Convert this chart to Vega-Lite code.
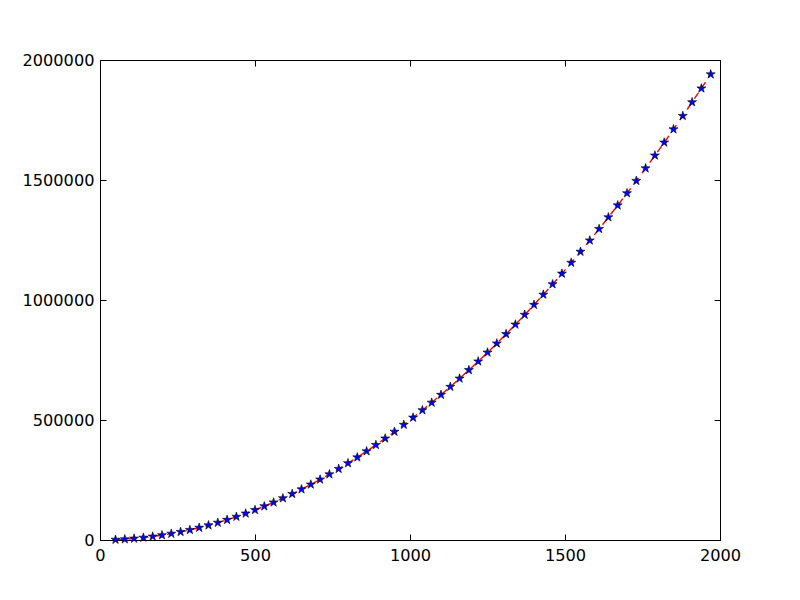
{
  "$schema": "https://vega.github.io/schema/vega-lite/v6.json",
  "autosize": {"type": "none"},
  "padding": {"left": 100, "top": 60, "right": 80, "bottom": 60},
  "width": 620,
  "height": 480,
  "background": "white",
  "config": {
    "view": {"stroke": "black", "strokeWidth": 1},
    "axis": {
      "grid": false,
      "domain": false,
      "labelFont": "DejaVu Sans",
      "labelFontSize": 16.2,
      "labelColor": "black",
      "labelFlush": false,
      "labelOverlap": false,
      "tickColor": "black",
      "tickWidth": 1,
      "tickSize": 6,
      "offset": -6,
      "title": null
    }
  },
  "data": {
    "values": [
      {"x": 50, "y": 1250}, {"x": 80, "y": 3200}, {"x": 110, "y": 6050}, {"x": 140, "y": 9800},
      {"x": 170, "y": 14450}, {"x": 200, "y": 20000}, {"x": 230, "y": 26450}, {"x": 260, "y": 33800},
      {"x": 290, "y": 42050}, {"x": 320, "y": 51200}, {"x": 350, "y": 61250}, {"x": 380, "y": 72200},
      {"x": 410, "y": 84050}, {"x": 440, "y": 96800}, {"x": 470, "y": 110450}, {"x": 500, "y": 125000},
      {"x": 530, "y": 140450}, {"x": 560, "y": 156800}, {"x": 590, "y": 174050}, {"x": 620, "y": 192200},
      {"x": 650, "y": 211250}, {"x": 680, "y": 231200}, {"x": 710, "y": 252050}, {"x": 740, "y": 273800},
      {"x": 770, "y": 296450}, {"x": 800, "y": 320000}, {"x": 830, "y": 344450}, {"x": 860, "y": 369800},
      {"x": 890, "y": 396050}, {"x": 920, "y": 423200}, {"x": 950, "y": 451250}, {"x": 980, "y": 480200},
      {"x": 1010, "y": 510050}, {"x": 1040, "y": 540800}, {"x": 1070, "y": 572450}, {"x": 1100, "y": 605000},
      {"x": 1130, "y": 638450}, {"x": 1160, "y": 672800}, {"x": 1190, "y": 708050}, {"x": 1220, "y": 744200},
      {"x": 1250, "y": 781250}, {"x": 1280, "y": 819200}, {"x": 1310, "y": 858050}, {"x": 1340, "y": 897800},
      {"x": 1370, "y": 938450}, {"x": 1400, "y": 980000}, {"x": 1430, "y": 1022450}, {"x": 1460, "y": 1065800},
      {"x": 1490, "y": 1110050}, {"x": 1520, "y": 1155200}, {"x": 1550, "y": 1201250}, {"x": 1580, "y": 1248200},
      {"x": 1610, "y": 1296050}, {"x": 1640, "y": 1344800}, {"x": 1670, "y": 1394450}, {"x": 1700, "y": 1445000},
      {"x": 1730, "y": 1496450}, {"x": 1760, "y": 1548800}, {"x": 1790, "y": 1602050}, {"x": 1820, "y": 1656200},
      {"x": 1850, "y": 1711250}, {"x": 1880, "y": 1767200}, {"x": 1910, "y": 1824050}, {"x": 1940, "y": 1881800},
      {"x": 1970, "y": 1940450}
    ]
  },
  "layer": [
    {
      "mark": {"type": "line", "color": "red", "strokeWidth": 1.4, "strokeDash": [7, 6]},
      "encoding": {
        "x": {"field": "x", "type": "quantitative", "scale": {"domain": [0, 2000], "nice": false, "zero": false},
              "axis": {"orient": "bottom", "values": [0, 500, 1000, 1500, 2000], "format": "d", "labelPadding": 7}},
        "y": {"field": "y", "type": "quantitative", "scale": {"domain": [0, 2000000], "nice": false, "zero": false},
              "axis": {"orient": "left", "values": [0, 500000, 1000000, 1500000, 2000000], "format": "d", "labelPadding": 6}}
      }
    },
    {
      "mark": {"type": "point", "shape": "M0,-1L0.2245,-0.309L0.951,-0.309L0.3633,0.118L0.588,0.809L0,0.382L-0.588,0.809L-0.3633,0.118L-0.951,-0.309L-0.2245,-0.309Z", "filled": true, "color": "#0000ff", "stroke": "black", "strokeWidth": 0.6, "size": 90, "opacity": 1},
      "encoding": {
        "x": {"field": "x", "type": "quantitative",
              "axis": {"orient": "top", "values": [0, 500, 1000, 1500, 2000], "labels": false}},
        "y": {"field": "y", "type": "quantitative",
              "axis": {"orient": "right", "values": [0, 500000, 1000000, 1500000, 2000000], "labels": false}}
      }
    }
  ],
  "resolve": {"axis": {"x": "independent", "y": "independent"}}
}
